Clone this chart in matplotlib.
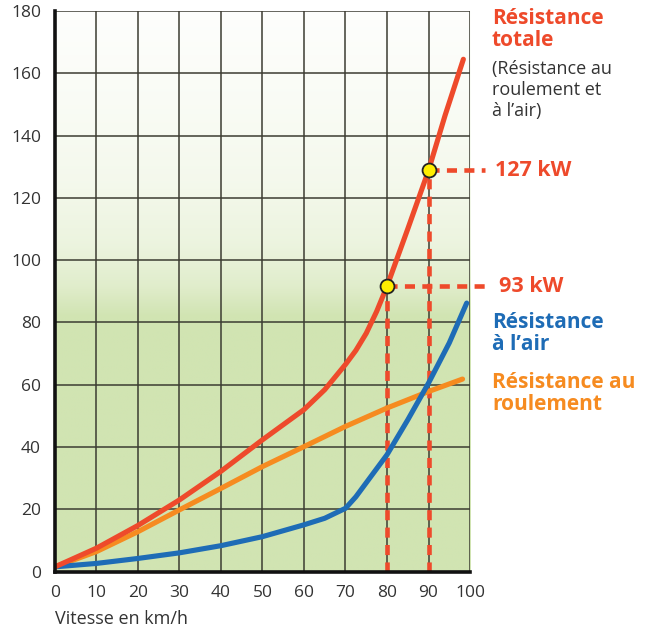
import numpy as np
import matplotlib
matplotlib.use("Agg")
import matplotlib.pyplot as plt

# Data
speed_rolling = [0, 10, 20, 30, 40, 50, 60, 70, 80, 90, 98.2]
rolling = [1.5, 6.4, 12.8, 19.8, 26.7, 33.7, 40.1, 46.6, 52.5, 57.8, 61.8]

speed_air = [0, 10, 20, 30, 40, 50, 60, 65, 70, 72.5, 75.5, 80, 85, 90, 95, 99.2]
air = [1.5, 2.6, 4.2, 6.0, 8.3, 11.2, 15, 17.1, 20.3, 24, 29.4, 37.5, 48.7, 60.5, 73.4, 86.2]

speed_total = [0, 10, 20, 30, 40, 50, 60, 65, 70, 72.5, 75, 77.5, 80, 85, 90, 94, 98.4]
total = [1.5, 7.5, 14.8, 23, 32.2, 42.3, 52, 58.4, 66.5, 71, 76.5, 83.5, 91.6, 110, 128.8, 146.5, 164.5]

marked_speed = [80, 90]
marked_power = [91.6, 128.8]
marked_labels = ["93 kW", "127 kW"]

xticks = list(range(0, 101, 10))
yticks = list(range(0, 181, 20))

RED = "#ee4a2b"
ORANGE = "#f68b20"
BLUE = "#1e6cb6"
GREEN = "#d1e4b2"
TXT = "#333333"

plt.rcParams['font.family'] = ['Open Sans', 'DejaVu Sans']

fig = plt.figure(figsize=(6.49, 6.32), dpi=100)
ax = fig.add_axes([0.0847, 0.0957, 0.7242 - 0.0847, 0.9826 - 0.0957])
ax.set_xlim(0, 100)
ax.set_ylim(0, 180)

# gradient background
yy = np.linspace(0, 180, 600)
t = np.interp(yy, [0, 82, 92, 105, 125, 150, 180], [0, 0, 0.35, 0.6, 0.78, 0.9, 1.0])
g = np.array(matplotlib.colors.to_rgb(GREEN))
w = np.array([0.995, 0.997, 0.99])
cols = g[None, :] * (1 - t[:, None]) + w[None, :] * t[:, None]
img = np.repeat(cols[:, None, :], 2, axis=1)
ax.imshow(img, extent=[0, 100, 0, 180], origin='lower', aspect='auto', zorder=0, interpolation='bilinear')

# grid
for xv in xticks[1:]:
    ax.axvline(xv, color='#3c3c32', lw=1.1, zorder=1)
for yv in yticks[1:]:
    ax.axhline(yv, color='#3c3c32', lw=1.1, zorder=1)

# dashed guides
label_x = {80: 107.0, 90: 106.0}
for sx, py, lab in zip(marked_speed, marked_power, marked_labels):
    ax.plot([sx, sx], [0, py], color=RED, lw=3.3, ls=(0, (2.2, 1.6)), zorder=2)
    ax.plot([sx, 103.6], [py, py], color=RED, lw=3.3, ls=(0, (2.2, 1.6)), zorder=2, clip_on=False)
    ax.text(label_x[sx], py, lab, color=RED, fontsize=15.5, fontweight='bold',
            va='center', ha='left', clip_on=False)

ax.plot(speed_rolling, rolling, color=ORANGE, lw=3.7, solid_capstyle='round', solid_joinstyle='round', zorder=3)
ax.plot(speed_air, air, color=BLUE, lw=3.7, solid_capstyle='round', solid_joinstyle='round', zorder=3)
ax.plot(speed_total, total, color=RED, lw=3.7, solid_capstyle='round', solid_joinstyle='round', zorder=4)
ax.scatter(marked_speed, marked_power, s=100, color='#ffee00', edgecolor='#222222', linewidth=1.3, zorder=5)

# spines
for s in ['top', 'right']:
    ax.spines[s].set_visible(False)
for s in ['left', 'bottom']:
    ax.spines[s].set_linewidth(2.6)
    ax.spines[s].set_color('#111')
    ax.spines[s].set_zorder(6)

ax.set_xticks(xticks)
ax.set_yticks(yticks)
ax.tick_params(length=0, labelsize=12.5, colors=TXT)
ax.tick_params(axis='x', pad=10)
ax.tick_params(axis='y', pad=10)
ax.set_xlabel("Vitesse en km/h", fontsize=13, color=TXT, loc='left', labelpad=6)

# right-side labels
fx = 492 / 649
def ftxt(y_px, s, color, weight, size, ls):
    fig.text(fx, 1 - y_px / 632, s, color=color, fontweight=weight, fontsize=size,
             va='top', ha='left', linespacing=ls)

ftxt(8, "Résistance\ntotale", RED, 'bold', 15, 1.05)
ftxt(60, "(Résistance au\nroulement et\nà l’air)", TXT, 'normal', 13, 1.2)
ftxt(312, "Résistance\nà l’air", BLUE, 'bold', 15, 1.05)
ftxt(372, "Résistance au\nroulement", ORANGE, 'bold', 15, 1.05)

fig.savefig("out.png", dpi=100)
